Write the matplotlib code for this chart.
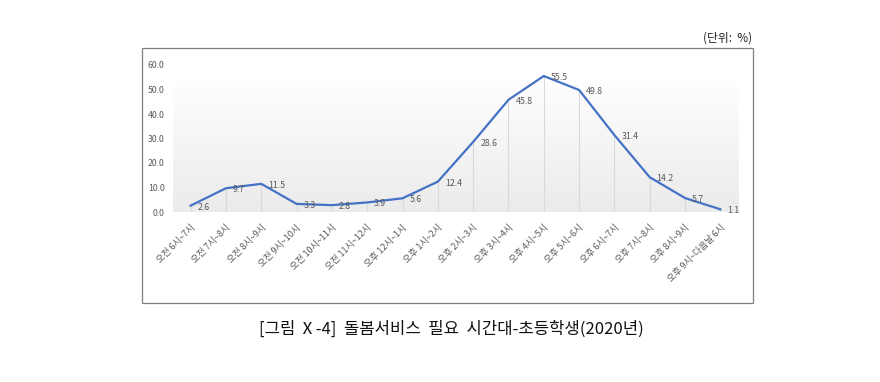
import numpy as np
import matplotlib.pyplot as plt
from matplotlib.patches import Rectangle
from matplotlib.colors import LinearSegmentedColormap

plt.rcParams['font.family'] = ['Noto Sans CJK KR', 'DejaVu Sans']

# data
categories = ['오전 6시~7시', '오전 7시~8시', '오전 8시~9시', '오전 9시~10시',
              '오전 10시~11시', '오전 11시~12시', '오후 12시~1시', '오후 1시~2시',
              '오후 2시~3시', '오후 3시~4시', '오후 4시~5시', '오후 5시~6시',
              '오후 6시~7시', '오후 7시~8시', '오후 8시~9시', '오후 9시~다음날 6시']
values = [2.6, 9.7, 11.5, 3.3, 2.8, 3.9, 5.6, 12.4,
          28.6, 45.8, 55.5, 49.8, 31.4, 14.2, 5.7, 1.1]
yticks = [0, 10, 20, 30, 40, 50, 60]

title = '[그림 Ⅹ-4]  돌봄서비스  필요  시간대-초등학생(2020년)'
unit = '(단위:  %)'

W, H = 880, 382
fig = plt.figure(figsize=(W / 100, H / 100), dpi=100)

# outer chart box
fig.patches.append(Rectangle((142 / W, 1 - 303 / H), (753 - 142) / W, (303 - 48) / H,
                             transform=fig.transFigure, fill=False,
                             edgecolor='#7f7f7f', linewidth=0.9))

ax = fig.add_axes([173 / W, 1 - 212 / H, (738 - 173) / W, (212 - 65) / H])
x = np.arange(len(values))

# plot area gradient (white at top, light gray at bottom)
grad = np.linspace(0, 1, 256).reshape(-1, 1)
cmap = LinearSegmentedColormap.from_list('g', ['#ffffff', '#ebebeb'])
ax.imshow(grad, extent=(-0.5, len(values) - 0.5, 0, 53), aspect='auto',
          cmap=cmap, vmin=-0.05, vmax=1, zorder=0)

ax.vlines(x, 0, values, colors='#d9d9d9', linewidth=0.8, zorder=1)
ax.plot(x, values, color='#4472C4', linewidth=1.6, zorder=3)

for xi, v in zip(x, values):
    ax.annotate(f'{v:.1f}', (xi, v), xytext=(5, -1), textcoords='offset points',
                ha='left', va='center', fontsize=6.3, color='#595959', zorder=4)

ax.set_xlim(-0.5, len(values) - 0.5)
ax.set_ylim(0, 60)
ax.set_yticks(yticks)
ax.set_yticklabels([f'{t:.1f}' for t in yticks], fontsize=6.3, color='#595959')
ax.set_xticks(x)
ax.set_xticklabels(categories, fontsize=6.5, color='#595959')
plt.setp(ax.get_xticklabels(), rotation=45, ha='right', rotation_mode='anchor')
ax.tick_params(axis='both', length=0)
ax.tick_params(axis='y', pad=6)
ax.tick_params(axis='x', pad=8)
for s in ax.spines.values():
    s.set_visible(False)

fig.text(752 / W, 1 - 38 / H, unit, ha='right', va='center', fontsize=8.5, color='#222222')
fig.text(451 / W, 1 - 329 / H, title, ha='center', va='center', fontsize=12, color='#111111')

fig.savefig('out.png', dpi=100)
